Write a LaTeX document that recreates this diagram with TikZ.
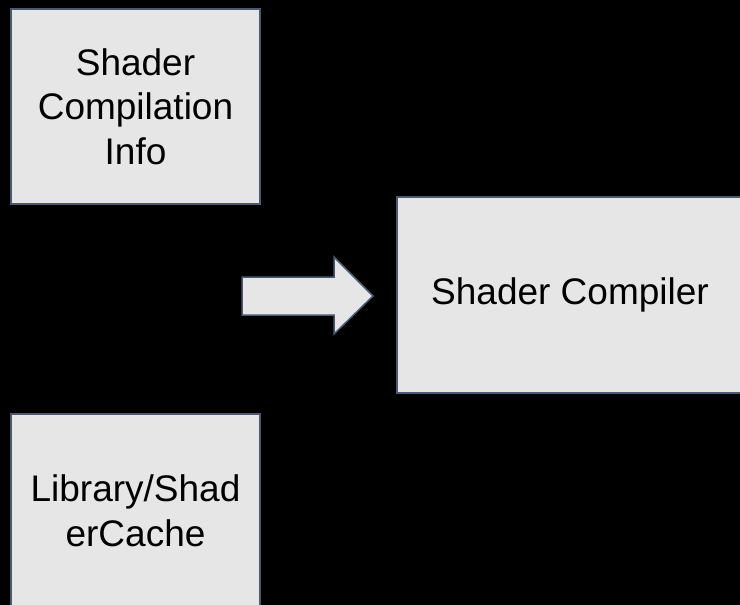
\documentclass[tikz,border=0pt]{standalone}
\usepackage{fontspec}
\setmainfont{Liberation Sans}
\definecolor{boxfill}{HTML}{E6E6E6}
\definecolor{boxline}{HTML}{4B5A6E}
\begin{document}
\begin{tikzpicture}[x=1pt,y=-1pt,
  block/.style={draw=boxline, fill=boxfill, line width=2pt, inner sep=0pt,
    align=center, text=black, font=\fontsize{37}{44.5}\selectfont}]
  % black canvas
  \fill[black] (0,0) rectangle (740,605);
  \useasboundingbox (0,0) rectangle (740,605);

  % input boxes
  \node[block, minimum width=249pt, minimum height=195pt] (info) at (135.5,106.5)
    {Shader\\Compilation\\Info};
  \node[block, minimum width=249pt, minimum height=195pt] (cache) at (135.5,511)
    {Library/Shad\\erCache};

  % compiler box
  \node[block, minimum width=346pt, minimum height=196pt] (compiler) at (570,295)
    {Shader Compiler};

  % block arrow pointing into the compiler
  \draw[boxline, fill=boxfill, line width=1.5pt, line join=miter]
    (242,277) -- (334,277) -- (334,257) -- (373,296) -- (334,334) -- (334,315)
    -- (242,315) -- cycle;
\end{tikzpicture}
\end{document}
